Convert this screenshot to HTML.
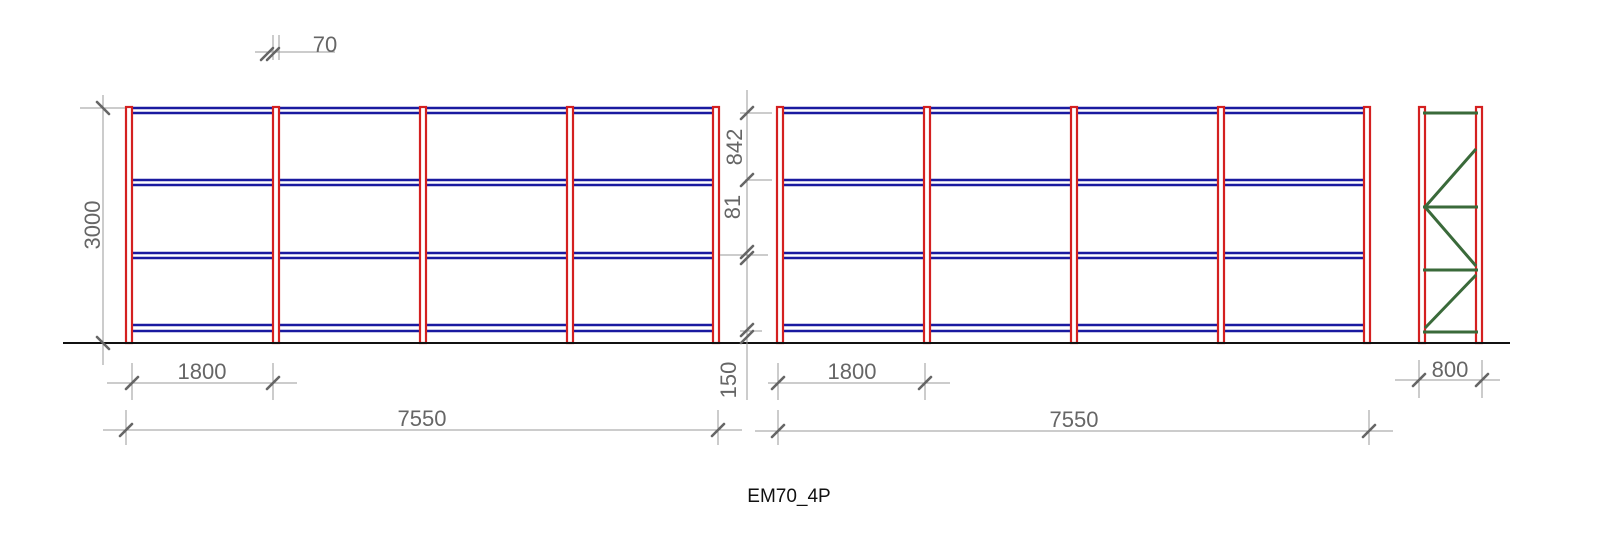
<!DOCTYPE html>
<html><head><meta charset="utf-8"><style>
html,body{margin:0;padding:0;background:#fff;}
svg{display:block;}
text{font-family:"Liberation Sans",sans-serif;}
</style></head><body>
<svg width="1600" height="536" viewBox="0 0 1600 536" xmlns="http://www.w3.org/2000/svg">
<g id="beams" stroke="#1a1aa0" stroke-width="2.4" fill="none">
<path d="M132 108H713M132 113H713M132 180H713M132 185H713M132 253H713M132 258H713M132 325H713M132 331H713"/>
<path d="M783 108H1364M783 113H1364M783 180H1364M783 185H1364M783 253H1364M783 258H1364M783 325H1364M783 331H1364"/>
</g>
<g stroke="#d42020" stroke-width="2.2" fill="#fff">
<rect x="126" y="107" width="6" height="236"/>
<rect x="273" y="107" width="6" height="236"/>
<rect x="420" y="107" width="6" height="236"/>
<rect x="567" y="107" width="6" height="236"/>
<rect x="713" y="107" width="6" height="236"/>
<rect x="777" y="107" width="6" height="236"/>
<rect x="924" y="107" width="6" height="236"/>
<rect x="1071" y="107" width="6" height="236"/>
<rect x="1218" y="107" width="6" height="236"/>
<rect x="1364" y="107" width="6" height="236"/>
<rect x="1419" y="107" width="6" height="236"/>
<rect x="1476" y="107" width="6" height="236"/>
</g>
<g stroke="#3a6a3a" stroke-width="3" fill="none">
<path d="M1423 113H1478M1423 207H1478M1423 270H1478M1423 332H1478"/>
<path d="M1425 207L1476 149M1425 207L1476 266M1476 275L1425 328"/>
</g>
<line x1="63" y1="343" x2="1510" y2="343" stroke="#111" stroke-width="2"/>
<g stroke="#999" stroke-width="1" fill="none">
<path d="M103 95V365M80 108H125"/>
<path d="M107 383H297M132 363V400M273 363V400"/>
<path d="M103 430H742M126 410V445M718 410V445"/>
<path d="M768 383H950M778 363V400M925 363V400"/>
<path d="M755 431H1393M778 410V445M1369 410V445"/>
<path d="M1395 380H1500M1419 360V398M1482 360V398"/>
<path d="M747 90V400M740 113H772M745 180H772M720 255H768M740 331H762M273 35V60M279 35V60M255 52H335"/>
</g>
<g stroke="#666" stroke-width="2.6" stroke-linecap="round">
<path d="M97 102L109 114M97 337L109 349"/>
<path d="M126 389L138 377M267 389L279 377"/>
<path d="M120 436L132 424M712 436L724 424"/>
<path d="M772 389L784 377M919 389L931 377"/>
<path d="M772 437L784 425M1363 437L1375 425"/>
<path d="M1413 386L1425 374M1476 386L1488 374"/>
<path d="M741 119L753 107M741 186L753 174M741 258L753 246M741 264L753 252M741 336L753 324M741 343L753 331"/>
<path d="M261 60L273 48M267 60L279 48"/>
</g>
<g fill="#666" font-size="22" text-anchor="middle">
<text x="325" y="52">70</text>
<text x="202" y="379">1800</text>
<text x="422" y="426">7550</text>
<text x="852" y="379">1800</text>
<text x="1074" y="427">7550</text>
<text x="1450" y="377">800</text>
<text transform="translate(100,225) rotate(-90)">3000</text>
<text transform="translate(742,147) rotate(-90)">842</text>
<text transform="translate(740,207) rotate(-90)">81</text>
<text transform="translate(736,380) rotate(-90)">150</text>
</g>
<text x="789" y="502" font-size="19" fill="#111" text-anchor="middle">EM70_4P</text>
</svg>
</body></html>
